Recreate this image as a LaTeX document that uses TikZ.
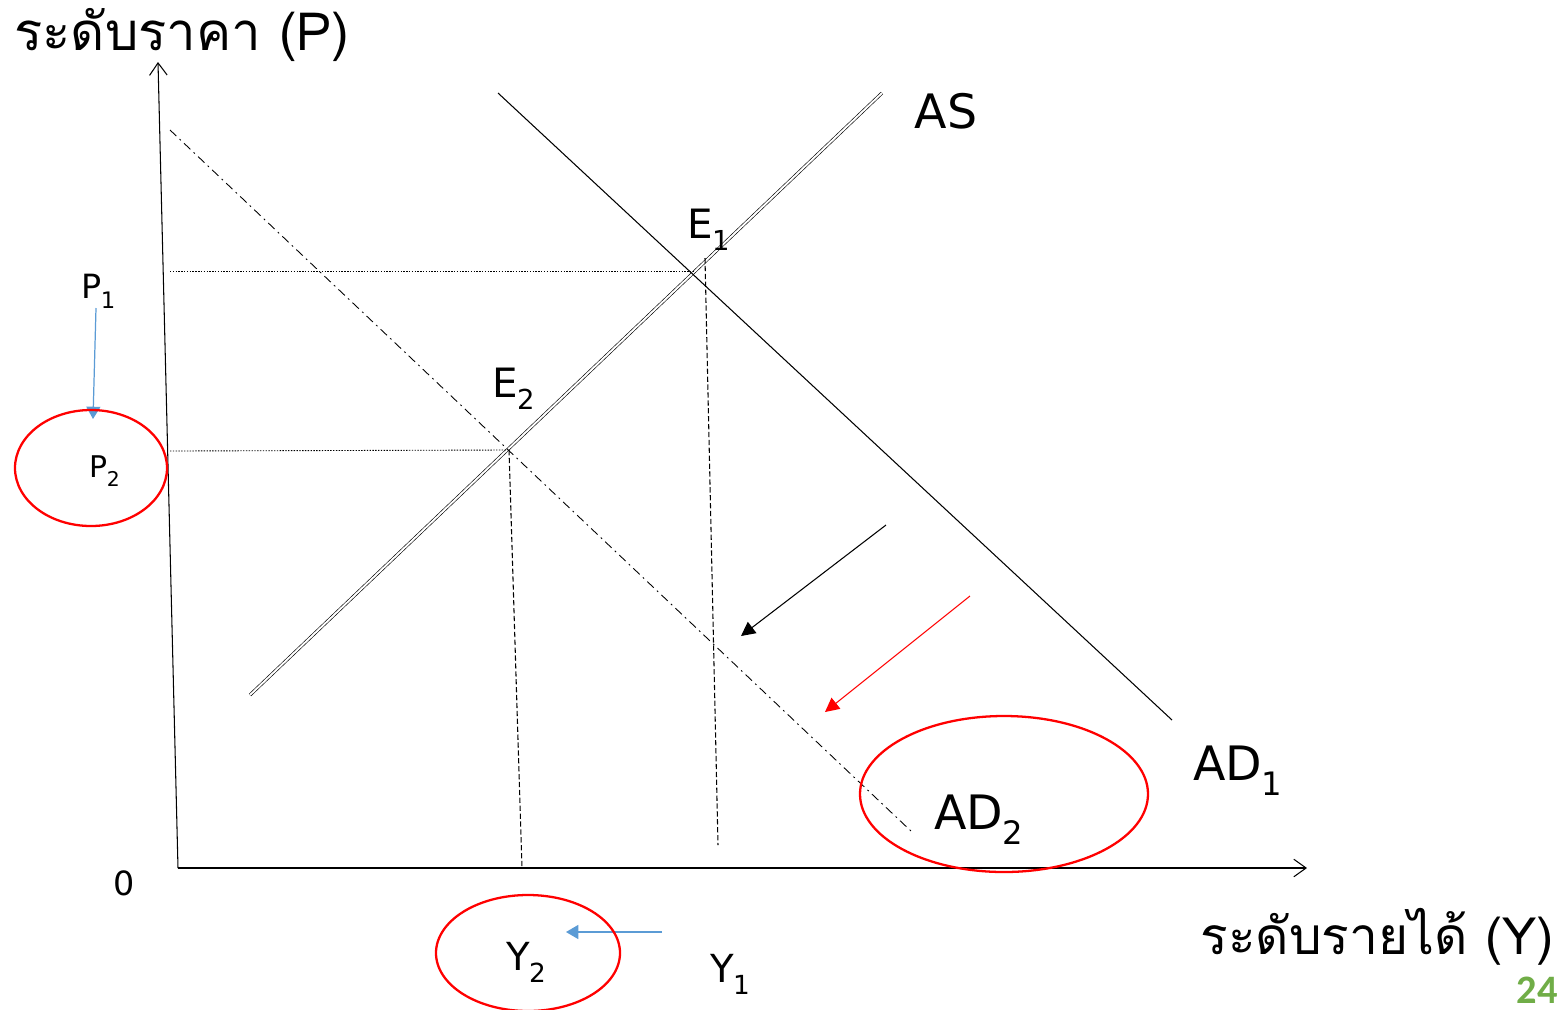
\documentclass[tikz,border=0pt]{standalone}
\usepackage{graphicx}
\usepackage{fontspec}
\setmainfont{DejaVu Sans}
\newfontfamily\thaifont[Script=Thai]{Loma}
\newfontfamily\numfont{Carlito}
\usetikzlibrary{arrows.meta}
\definecolor{pgreen}{RGB}{112,173,71}
\definecolor{pblue}{RGB}{91,155,213}
\newcommand\lowsub[1]{\kern-0.02em\raisebox{-0.32em}{\scalebox{0.68}{#1}}}
\begin{document}
\begin{tikzpicture}[x=0.02cm,y=-0.02cm,
  axis/.style={line width=0.6pt,-{Straight Barb[length=7pt,width=10pt,line width=0.6pt]}},
  curve/.style={line width=0.6pt},
  dblcurve/.style={line width=0.35pt,double=white,double distance=1.1pt},
  dashdotline/.style={line width=0.5pt,dash pattern=on 5pt off 2.5pt on 1pt off 2.5pt},
  guideh/.style={line width=0.5pt,dash pattern=on 0.8pt off 0.8pt},
  guidev/.style={line width=0.6pt,dash pattern=on 3pt off 1.5pt},
  shiftarrow/.style={line width=0.6pt,-{Triangle[length=8pt,width=8pt]}},
  bluearrow/.style={pblue,line width=0.7pt,-{Triangle[length=7pt,width=8pt]}},
  ring/.style={red,line width=1.3pt},
  lbl/.style={inner sep=0pt,font=\fontsize{19}{22}\selectfont},
  biglbl/.style={inner sep=0pt,font=\fontsize{27}{30}\selectfont},
  thai/.style={inner sep=0pt,font=\thaifont\fontsize{30}{34}\selectfont}]
\useasboundingbox (0,0) rectangle (1563,1009);
% axes
\coordinate (O) at (178,868);
\coordinate (Ytop) at (158,62);
\coordinate (Xend) at (1307,868);
\draw[axis] (O) -- (Ytop);
\draw[axis] (O) -- (Xend);
\node[lbl,anchor=center] (zero) at (124,883) {0};
% curves
\coordinate (ASa) at (250,695);
\coordinate (ASb) at (882,93);
\draw[dblcurve] (ASa) -- (ASb);
\coordinate (ADa) at (498,93);
\coordinate (ADb) at (1172,720);
\draw[curve] (ADa) -- (ADb);
\coordinate (ADc) at (170,130);
\coordinate (ADd) at (912,832);
\draw[dashdotline] (ADc) -- (ADd);
% guide lines
\coordinate (E1) at (693,271);
\coordinate (E2) at (508,450);
\coordinate (P1h) at (170,271);
\coordinate (P2h) at (170,451);
\coordinate (E1v) at (705,258);
\coordinate (Y1v) at (718,845);
\coordinate (E2v) at (509,450);
\coordinate (Y2v) at (522,868);
\draw[guideh] (P1h) -- (E1);
\draw[guideh] (P2h) -- (E2);
\draw[guidev] (E1v) -- (Y1v);
\draw[guidev] (E2v) -- (Y2v);
% labels
\node[biglbl] (ASl) at (946,111) {AS};
\node[biglbl,anchor=base west] (AD1l) at (1193,780) {AD\lowsub{1}};
\node[biglbl,anchor=base west] (AD2l) at (934,829) {AD\lowsub{2}};
\node[lbl,font=\fontsize{23}{26}\selectfont,anchor=base west] (E1l) at (687,238) {E\lowsub{1}};
\node[lbl,font=\fontsize{23}{26}\selectfont,anchor=base west] (E2l) at (492,397) {E\lowsub{2}};
\node[lbl,anchor=base west] (P1l) at (81,298) {P\lowsub{1}};
\node[lbl,font=\fontsize{17}{20}\selectfont,anchor=base west] (P2l) at (89,477) {P\lowsub{2}};
\node[lbl,font=\fontsize{22}{25}\selectfont,anchor=base west] (Y2l) at (506,970) {Y\lowsub{2}};
\node[lbl,font=\fontsize{22}{25}\selectfont,anchor=base west] (Y1l) at (710,982) {Y\lowsub{1}};
% arrows
\coordinate (bA) at (886,525);
\coordinate (bB) at (741,636);
\draw[shiftarrow] (bA) -- (bB);
\coordinate (rA) at (970,596);
\coordinate (rB) at (825,712);
\draw[shiftarrow,red] (rA) -- (rB);
\coordinate (pA) at (96,308);
\coordinate (pB) at (93,419);
\draw[bluearrow] (pA) -- (pB);
\coordinate (yA) at (662,932);
\coordinate (yB) at (566,932);
\draw[bluearrow] (yA) -- (yB);
% rings
\draw[ring] (91,468) ellipse [x radius=76,y radius=58];
\draw[ring] (1004,794) ellipse [x radius=144,y radius=78];
\draw[ring] (528,953) ellipse [x radius=92,y radius=58];
% axis titles
\node[thai,anchor=base west] (ptitle) at (14,50) {ระดับราคา (P)};
\node[thai,anchor=base west,text depth=2pt,font=\thaifont\fontsize{29.3}{34}\selectfont] (ytitle) at (1200,954) {ระดับรายได้ (Y)};
\node[inner sep=0pt,anchor=base east,text depth=0pt,text height=14pt,text=pgreen,font=\numfont\bfseries\fontsize{23}{26}\selectfont] (pagenum) at (1558,1003) {24};
\end{tikzpicture}
\end{document}
